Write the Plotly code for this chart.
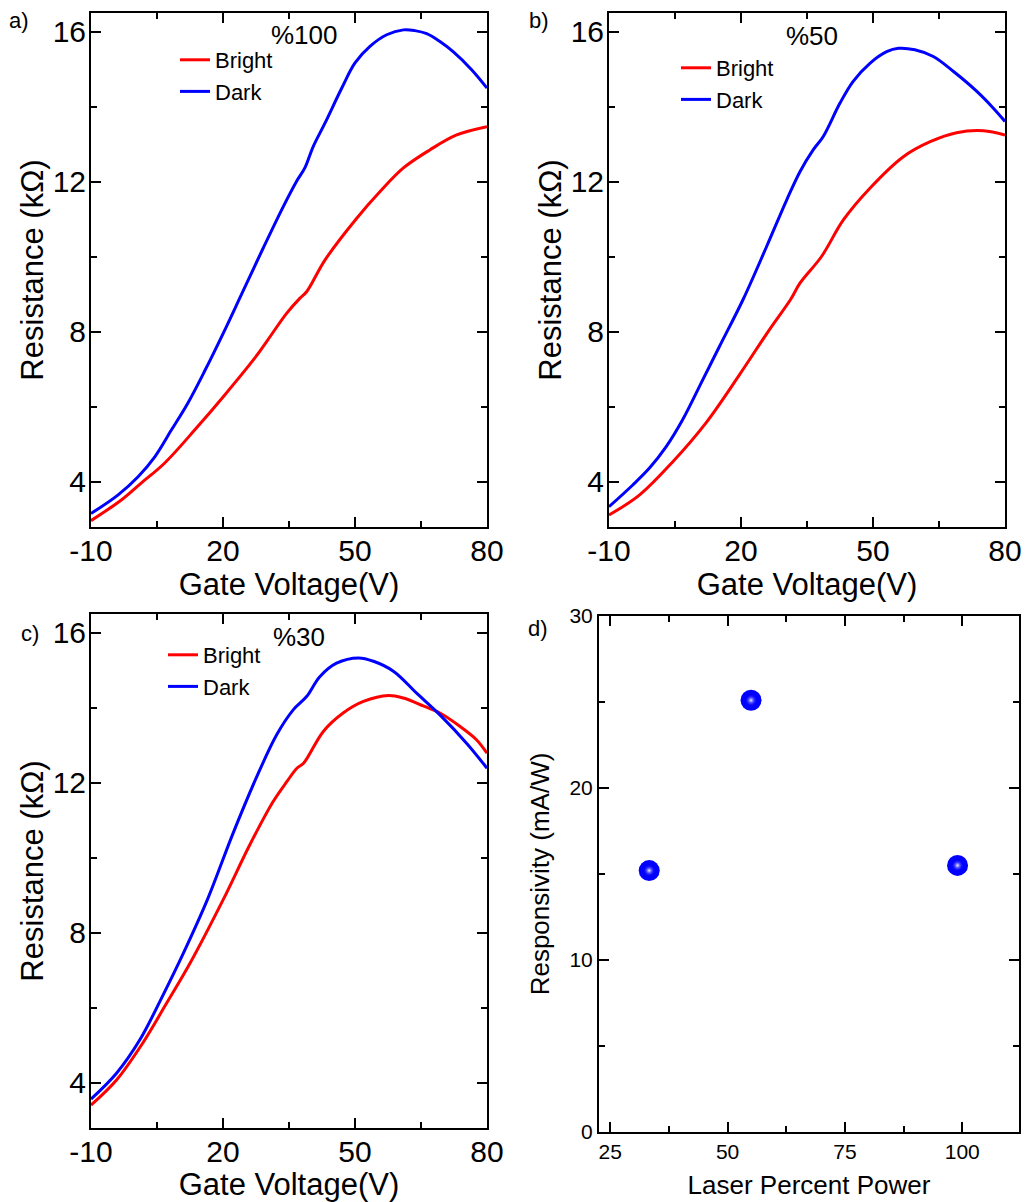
import plotly.graph_objects as go

# ---------------- data ----------------
# panel a (%100)
a_dark_v = [-10, -3.9, 0.7, 4.5, 8.3, 12, 15.8, 20.4, 24.2, 29.2, 33.7, 36.7, 38.6, 40.5, 43.2, 47, 50, 53.4, 57.2, 61, 63.6, 66.3, 69.3, 72.3, 76.5, 80]
a_dark_r = [3.16, 3.65, 4.14, 4.67, 5.39, 6.1, 6.95, 8.05, 9.0, 10.25, 11.34, 12.01, 12.37, 12.94, 13.57, 14.5, 15.17, 15.61, 15.92, 16.05, 16.03, 15.95, 15.74, 15.47, 14.99, 14.5]
a_bright_v = [-10, -3.1, 1.4, 6.7, 13.6, 20.4, 27.2, 30.2, 34.5, 37.5, 39, 43.2, 50.4, 55.7, 61, 67, 73.1, 80]
a_bright_r = [2.97, 3.52, 3.97, 4.5, 5.39, 6.32, 7.3, 7.79, 8.5, 8.9, 9.07, 9.92, 11.03, 11.74, 12.37, 12.85, 13.25, 13.47]

# panel b (%50)
b_dark_v = [-10, -4.6, -0.8, 3, 6.7, 11.3, 15.1, 20.5, 25.8, 30.4, 33.4, 36.4, 38.7, 42.5, 45.5, 49.3, 53.1, 55.8, 59.5, 63.7, 68.3, 73.6, 77.3, 80]
b_dark_r = [3.34, 3.92, 4.37, 4.94, 5.65, 6.72, 7.61, 8.87, 10.27, 11.52, 12.27, 12.85, 13.21, 14.1, 14.68, 15.16, 15.47, 15.56, 15.52, 15.34, 14.94, 14.41, 13.97, 13.61]
b_bright_v = [-10, -3.1, 4.5, 12, 19.6, 26.4, 31.3, 33.4, 38.3, 43.3, 49.3, 56.9, 63, 69, 75.1, 80]
b_bright_r = [3.12, 3.65, 4.54, 5.57, 6.85, 8.05, 8.87, 9.3, 10.01, 10.99, 11.83, 12.67, 13.07, 13.31, 13.36, 13.25]

# panel c (%30)
c_dark_v = [-10, -4.2, 1.1, 6.4, 11, 16.5, 22.3, 27.7, 32.2, 36, 39, 42, 45.8, 50.8, 54.2, 58.8, 64, 69.3, 75.4, 80]
c_dark_r = [3.57, 4.26, 5.15, 6.35, 7.46, 8.9, 10.66, 12.17, 13.28, 13.95, 14.3, 14.83, 15.19, 15.33, 15.24, 14.97, 14.39, 13.81, 13.05, 12.39]
c_bright_v = [-10, -4.2, 1.9, 7.2, 12.5, 20.1, 26.1, 31.4, 34.5, 36.8, 38.3, 42.8, 47.3, 51.9, 57.6, 61, 65.5, 69.3, 73.9, 77.6, 80]
c_bright_r = [3.41, 4.08, 5.09, 6.13, 7.19, 8.9, 10.35, 11.5, 12.03, 12.39, 12.52, 13.37, 13.86, 14.17, 14.33, 14.26, 14.05, 13.86, 13.5, 13.15, 12.79]

# panel d
laser_power = [33.3, 55, 99]
responsivity = [15.2, 25.1, 15.5]

# tick labels
gate_ticks = [-10, 20, 50, 80]
gate_ticktext = ["-10", "20", "50", "80"]

panel_titles = ["%100", "%50", "%30"]
panel_labels = ["a)", "b)", "c)", "d)"]

# ---------------- layout helpers ----------------
W, H = 1025, 1202
FONT = "Arial, 'Liberation Sans', sans-serif"

def px(x):
    return x / W

def py(y):
    return 1 - y / H

fig = go.Figure()

RED = "#ff0000"
BLUE = "#0000ff"

curve_sets = [
    (a_bright_v, a_bright_r, a_dark_v, a_dark_r, "x", "y", "legend"),
    (b_bright_v, b_bright_r, b_dark_v, b_dark_r, "x2", "y2", "legend2"),
    (c_bright_v, c_bright_r, c_dark_v, c_dark_r, "x3", "y3", "legend3"),
]
for bv, br, dv, dr, xa, ya, lg in curve_sets:
    fig.add_trace(go.Scatter(x=bv, y=br, mode="lines", name="Bright",
                             line=dict(color=RED, width=3, shape="spline", smoothing=1.0),
                             xaxis=xa, yaxis=ya, legend=lg))
    fig.add_trace(go.Scatter(x=dv, y=dr, mode="lines", name="Dark",
                             line=dict(color=BLUE, width=3, shape="spline", smoothing=1.0),
                             xaxis=xa, yaxis=ya, legend=lg))

# panel d spheres
fig.add_trace(go.Scatter(x=laser_power, y=responsivity, mode="markers", showlegend=False,
                         marker=dict(size=21, color=BLUE, line=dict(width=0)),
                         xaxis="x4", yaxis="y4"))
fig.add_trace(go.Scatter(x=laser_power, y=responsivity, mode="markers", showlegend=False,
                         marker=dict(size=12, color="rgba(0,0,255,0)", line=dict(width=0),
                                     gradient=dict(type="radial", color="#f4f4ff")),
                         xaxis="x4", yaxis="y4", hoverinfo="skip"))

# domains (pixels)
dom = {
    1: dict(x=(91, 487), y=(13, 527)),
    2: dict(x=(609, 1005), y=(13, 527)),
    3: dict(x=(91, 487), y=(614, 1128)),
    4: dict(x=(599, 1019), y=(616, 1132)),
}

def axis_common(size):
    return dict(showline=True, linecolor="black", linewidth=2, mirror="allticks",
                ticks="inside", ticklen=10, tickwidth=2, tickcolor="black",
                showgrid=False, zeroline=False, automargin=False,
                tickfont=dict(family=FONT, size=size, color="black"))

layout = dict(width=W, height=H, margin=dict(l=0, r=0, t=0, b=0, autoexpand=False),
              template="none",
              plot_bgcolor="white", paper_bgcolor="white",
              font=dict(family=FONT, color="black"))

for i in (1, 2, 3):
    s = "" if i == 1 else str(i)
    d = dom[i]
    xa = axis_common(30)
    xa.update(domain=[px(d["x"][0]), px(d["x"][1])], range=[-10, 80],
              tickmode="array", tickvals=gate_ticks, ticktext=gate_ticktext,
              ticklabelstandoff=-4,
              minor=dict(ticks="inside", ticklen=6, tickwidth=2, tickcolor="black", dtick=15, tick0=-10),
              anchor="y" + s,
              title=dict(text="Gate Voltage(V)", font=dict(family=FONT, size=31), standoff=0))
    ya = axis_common(30)
    ya.update(domain=[py(d["y"][1]), py(d["y"][0])], range=[2.8, 16.5],
              tick0=0, dtick=4, ticklabelstandoff=-3,
              minor=dict(ticks="inside", ticklen=6, tickwidth=2, tickcolor="black", dtick=2, tick0=0),
              anchor="x" + s,
              title=dict(text="Resistance (kΩ)", font=dict(family=FONT, size=31), standoff=0))
    layout["xaxis" + s] = xa
    layout["yaxis" + s] = ya

d = dom[4]
xa = axis_common(21)
xa.update(domain=[px(d["x"][0]), px(d["x"][1])], range=[22.6, 112.1],
          tick0=0, dtick=25,
          minor=dict(ticks="inside", ticklen=6, tickwidth=2, tickcolor="black", dtick=12.5, tick0=0),
          anchor="y4",
          title=dict(text="Laser Percent Power", font=dict(family=FONT, size=26), standoff=14))
ya = axis_common(21)
ya.update(domain=[py(d["y"][1]), py(d["y"][0])], range=[0, 30],
          tick0=0, dtick=10,
          minor=dict(ticks="inside", ticklen=6, tickwidth=2, tickcolor="black", dtick=5, tick0=0),
          anchor="x4",
          title=dict(text="Responsivity (mA/W)", font=dict(family=FONT, size=26), standoff=12))
layout["xaxis4"] = xa
layout["yaxis4"] = ya

leg_common = dict(bgcolor="rgba(0,0,0,0)", borderwidth=0, font=dict(family=FONT, size=22, color="black"),
                  xanchor="left", yanchor="top", tracegroupgap=0, itemwidth=30)
layout["legend"] = dict(leg_common, x=px(175), y=py(39))
layout["legend2"] = dict(leg_common, x=px(676), y=py(47))
layout["legend3"] = dict(leg_common, x=px(163), y=py(634))

fig.update_layout(**layout)

# panel titles
title_pos = [(304, 35), (812, 36), (299, 637)]
for t, (x, y) in zip(panel_titles, title_pos):
    fig.add_annotation(text=t, x=px(x), y=py(y), xref="paper", yref="paper",
                       xanchor="center", yanchor="middle", showarrow=False,
                       font=dict(family=FONT, size=26, color="black"))

label_pos = [(7, 21), (527, 21), (19, 633), (526, 628)]
for t, (x, y) in zip(panel_labels, label_pos):
    fig.add_annotation(text=t, x=px(x), y=py(y), xref="paper", yref="paper",
                       xanchor="left", yanchor="middle", showarrow=False,
                       font=dict(family=FONT, size=22, color="black"))

fig.write_html("out.html")
